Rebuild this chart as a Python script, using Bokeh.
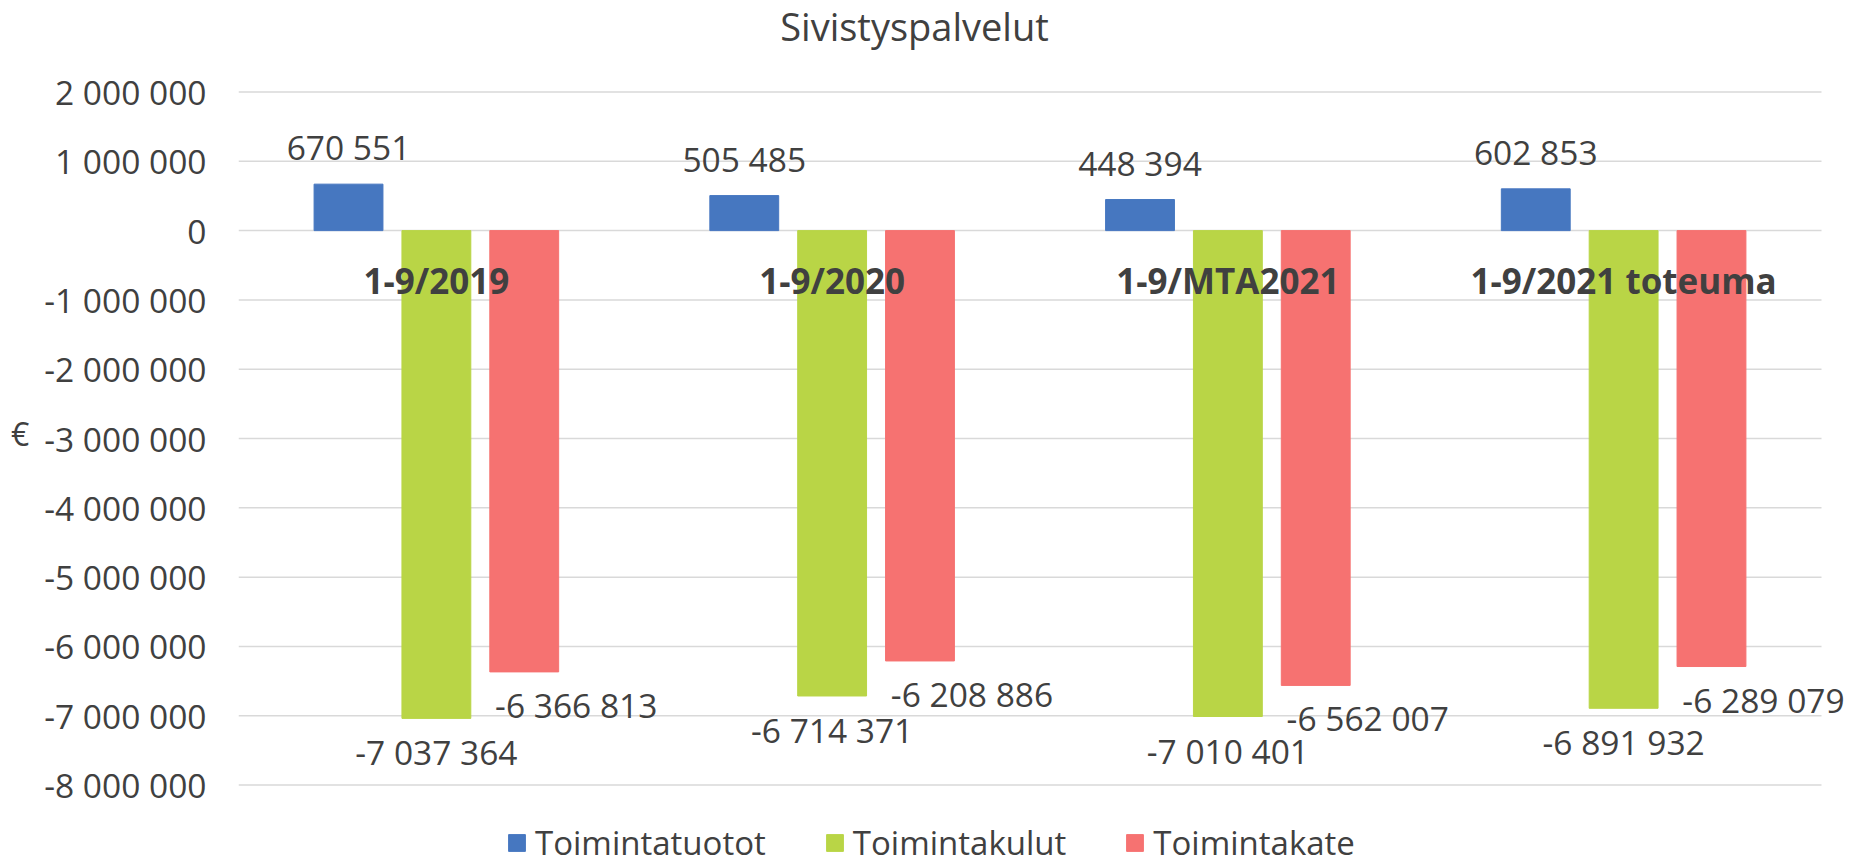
from bokeh.plotting import figure
from bokeh.models import ColumnDataSource, Range1d, FixedTicker, Legend, LegendItem, Label
from bokeh.transform import dodge
from bokeh.core.properties import value
from bokeh.embed import file_html
from bokeh.resources import INLINE

# ---------------- data ----------------
chart_title = "Sivistyspalvelut"
categories = ["1-9/2019", "1-9/2020", "1-9/MTA2021", "1-9/2021 toteuma"]
series_names = ["Toimintatuotot", "Toimintakulut", "Toimintakate"]
toimintatuotot = [670551, 505485, 448394, 602853]
toimintakulut = [-7037364, -6714371, -7010401, -6891932]
toimintakate = [-6366813, -6208886, -6562007, -6289079]
y_ticks = [2000000, 1000000, 0, -1000000, -2000000, -3000000, -4000000,
           -5000000, -6000000, -7000000, -8000000]
y_tick_labels = ["2 000 000", "1 000 000", "0", "-1 000 000", "-2 000 000", "-3 000 000",
                 "-4 000 000", "-5 000 000", "-6 000 000", "-7 000 000", "-8 000 000"]
y_axis_title = "€"

# ---------------- style / layout ----------------
FONT = "Open Sans"
TXT = "#404040"
BLUE = "#4677C0"
GREEN = "#B9D546"
RED = "#F67271"
OFF = 0.222
BW = 0.174

W, H = 1864, 865
LEFT, RIGHT_GRID, RIGHT = 238, 1821, 1862      # frame left, grid right end, frame right
GRID_TOP, GRID_BOTTOM = 91.5, 784.6             # pixel rows of top / bottom gridline
n = len(categories)
unit = (RIGHT_GRID - LEFT) / n
vpp = (y_ticks[0] - y_ticks[-1]) / (GRID_BOTTOM - GRID_TOP)   # value per pixel


def fmt(v):
    return f"{v:,}".replace(",", " ")


src = ColumnDataSource(dict(
    pos=[i + 0.5 for i in range(n)],
    cat=categories,
    tuotot=toimintatuotot,
    kulut=toimintakulut,
    kate=toimintakate,
    zero=[0] * n,
    l1=[fmt(v) for v in toimintatuotot],
    l2=[fmt(v) for v in toimintakulut],
    l3=[fmt(v) for v in toimintakate],
))

p = figure(width=W, height=H,
           x_range=Range1d(0, n + (RIGHT - RIGHT_GRID) / unit),
           y_range=Range1d(y_ticks[-1] - (H - GRID_BOTTOM) * vpp, y_ticks[0] + GRID_TOP * vpp),
           output_backend="svg", toolbar_location=None,
           x_axis_location=None,
           min_border_left=LEFT, min_border_right=W - RIGHT,
           min_border_top=0, min_border_bottom=0)
p.outline_line_color = None
p.background_fill_color = "white"
p.border_fill_color = "white"

ax = p.yaxis[0]
ax.ticker = FixedTicker(ticks=y_ticks)
ax.major_label_overrides = {t: l for t, l in zip(y_ticks, y_tick_labels)}
ax.axis_line_color = None
ax.major_tick_line_color = None
ax.minor_tick_line_color = None
ax.major_label_standoff = 26
ax.major_label_text_font = FONT
ax.major_label_text_font_size = "33.5px"
ax.major_label_text_color = TXT
ax.axis_label = y_axis_title
ax.axis_label_orientation = "horizontal"
ax.axis_label_standoff = 12
ax.axis_label_text_font = FONT
ax.axis_label_text_font_size = "32px"
ax.axis_label_text_font_style = "normal"
ax.axis_label_text_color = TXT

p.xgrid.visible = False
p.ygrid.visible = False
p.segment(x0=0, x1=n, y0=y_ticks, y1=y_ticks, line_color="#d9d9d9", line_width=1.5)

r1 = p.vbar(x=dodge("pos", -OFF), top="tuotot", bottom=0, width=BW,
            fill_color=BLUE, line_color=BLUE, source=src)
r2 = p.vbar(x="pos", top="kulut", bottom=0, width=BW,
            fill_color=GREEN, line_color=GREEN, source=src)
r3 = p.vbar(x=dodge("pos", OFF), top="kate", bottom=0, width=BW,
            fill_color=RED, line_color=RED, source=src)

lab_kw = dict(text_align="center", text_baseline="middle", text_font=value(FONT),
              text_font_size="33.5px", text_color=TXT, source=src)
p.text(x=dodge("pos", -OFF), y="tuotot", text="l1", y_offset=-37, **lab_kw)
p.text(x="pos", y="kulut", text="l2", y_offset=34, **lab_kw)
p.text(x=dodge("pos", OFF), y="kate", text="l3", y_offset=33, x_offset=52, **lab_kw)

# category labels (bold, at the zero line)
p.text(x="pos", y="zero", text="cat", y_offset=50, text_align="center", text_baseline="middle",
       text_font=value(FONT), text_font_style="bold", text_font_size="35px",
       text_color=TXT, source=src)

# chart title
p.add_layout(Label(x=914 - LEFT, y=H - 25, x_units="screen", y_units="screen", text=chart_title,
                   text_align="center", text_baseline="middle", text_font=FONT,
                   text_font_size="38px", text_color=TXT))

legend = Legend(items=[LegendItem(label=s, renderers=[r]) for s, r in zip(series_names, [r1, r2, r3])],
                orientation="horizontal", location=(268, 0),
                label_text_font=FONT, label_text_font_size="33px", label_text_color=TXT,
                glyph_width=21, glyph_height=21, spacing=58, label_standoff=8,
                padding=0, margin=0, border_line_color=None, background_fill_alpha=0)
p.add_layout(legend)

open("out.html", "w").write(file_html(p, INLINE))
